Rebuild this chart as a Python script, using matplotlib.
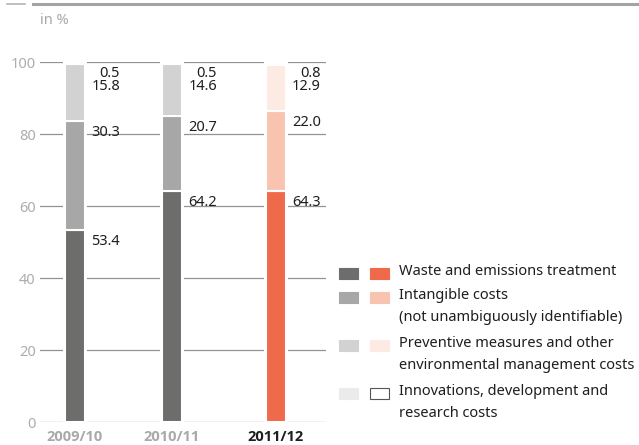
import matplotlib.pyplot as plt
from matplotlib.patches import Rectangle
from matplotlib.lines import Line2D
import numpy as np

plt.rcParams['font.family'] = ['Noto Sans', 'DejaVu Sans']

years = ['2009/10', '2010/11', '2011/12']
waste = [53.4, 64.2, 64.3]
intangible = [30.3, 20.7, 22.0]
preventive = [15.8, 14.6, 12.9]
innovations = [0.5, 0.5, 0.8]

legend_labels = ['Waste and emissions treatment',
                 'Intangible costs\n(not unambiguously identifiable)',
                 'Preventive measures and other\nenvironmental management costs',
                 'Innovations, development and\nresearch costs']

grey_cols = ['#6d6d6b', '#a7a7a7', '#d1d2d1', '#ebebeb']
orange_cols = ['#ef6a4b', '#f8c4b0', '#fdeae2', '#ffffff']

W, H = 639, 445
fig = plt.figure(figsize=(W / 100, H / 100), dpi=100)
ax = fig.add_axes([40 / W, 1 - 422 / H, 286 / W, 360 / H])

px = 98.5  # pixels per x unit
xpos = np.array([0, 0.985, 2.04])
ax.set_xlim(-35 / px, 251 / px)
ax.set_ylim(0, 100)

# grid lines across the plot, bars cut through them
for v in range(0, 101, 20):
    ax.axhline(v, color='#939393', lw=0.9, zorder=1)

ax.bar(xpos, 100, width=24 / px, color='white', zorder=2)

series = [waste, intangible, preventive, innovations]
bottoms = np.zeros(3)
for k, vals in enumerate(series):
    vals = np.array(vals)
    for i in range(3):
        col = orange_cols[k] if i == 2 else grey_cols[k]
        ax.bar(xpos[i], vals[i], bottom=bottoms[i], width=20 / px, color=col,
               edgecolor='white', linewidth=1.5, zorder=3)
    bottoms += vals

# value labels next to each bar
for i in range(3):
    kw = dict(textcoords='offset pixels', ha='right', va='top',
              fontsize=10.5, color='#1e1e1e', zorder=4)
    ax.annotate(f'{waste[i]:.1f}', (xpos[i], waste[i]), xytext=(45, -4), **kw)
    ax.annotate(f'{intangible[i]:.1f}', (xpos[i], waste[i] + intangible[i]),
                xytext=(45, -4), **kw)
    ax.annotate(f'{innovations[i]:.1f}\n{preventive[i]:.1f}', (xpos[i], 100),
                xytext=(45, -4), linespacing=0.85, **kw)

ax.set_yticks(range(0, 101, 20))
ax.tick_params(axis='y', length=0, pad=3, labelsize=10.5, labelcolor='#adadad')
ax.set_xticks(xpos)
ax.set_xticklabels(years, fontsize=10.5, fontweight='bold',
                   family=['Open Sans', 'DejaVu Sans'])
ax.tick_params(axis='x', length=0, pad=6)
for t, c in zip(ax.get_xticklabels(), ['#a9a9a9', '#a9a9a9', '#1e1e1e']):
    t.set_color(c)
for s in ax.spines.values():
    s.set_visible(False)

# header rule and unit
fig.add_artist(Line2D([33 / W, 1], [1 - 3.5 / H] * 2, color='#a3a3a3', lw=2.2))
fig.add_artist(Line2D([7 / W, 25 / W], [1 - 3.5 / H] * 2, color='#b5b5b5', lw=1.2))
fig.text(40 / W, 1 - 20 / H, 'in %', fontsize=10.5, color='#a9a9a9', va='center')

# legend
rows = [273, 297, 345, 393]
for k, y in enumerate(rows):
    for x0, cols in ((339, grey_cols), (370, orange_cols)):
        ec = '#555555' if cols[k] == '#ffffff' else cols[k]
        fig.add_artist(Rectangle((x0 / W, 1 - (y + 5.5) / H), 19 / W, 11 / H,
                                 facecolor=cols[k], edgecolor=ec, lw=0.8,
                                 transform=fig.transFigure))
    fig.text(399 / W, 1 - (y - 9) / H, legend_labels[k], fontsize=10.5,
             color='#1e1e1e', va='top', linespacing=1.6)

fig.savefig('out.png', dpi=100)
